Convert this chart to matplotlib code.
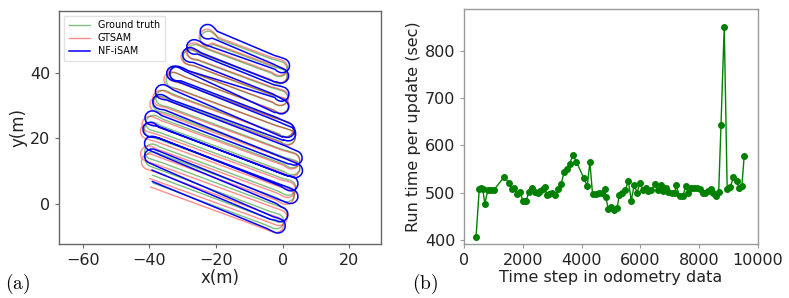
import numpy as np
import matplotlib
matplotlib.use("Agg")
import matplotlib.pyplot as plt
from matplotlib.path import Path
from matplotlib.patches import PathPatch
from matplotlib.lines import Line2D

plt.rcParams['mathtext.fontset'] = 'cm'

# ---- (a) trajectory: lane end points of the ground truth lawnmower path
lane_left_x = [-39.0, -39.2, -36.3, -36.5, -36.7, -36.9, -37.1, -36.9, -36.4, -35.8, -35.1, -34.3,
               -33.4, -32.4, -31.4, -30.3, -29.1, -27.9, -26.6, -25.3, -23.9, -22.4, -20.8, -19.1]
lane_left_y = [6.4, 8.8, 10.2, 12.7, 15.2, 17.4, 19.7, 21.8, 23.8, 25.8, 27.8, 29.6,
               31.5, 33.3, 35.1, 36.9, 38.7, 40.4, 42.1, 43.8, 45.5, 47.1, 48.7, 50.3]
lane_right_x = [-5.2, -4.2, -3.6, -2.4, -1.8, -1.4, -0.6, -0.1, 0.3, 0.6, 0.6, 0.2,
                -0.3, -0.9, -1.6, -2.2, -2.6, -2.9, -3.2, -3.4, -3.4, -3.4, -3.4, -3.4]
lane_right_y = [-6.4, -4.5, -2.4, -0.3, 1.9, 3.9, 5.8, 7.8, 9.9, 12.0, 14.2, 16.5,
                18.9, 21.3, 23.8, 26.2, 28.6, 30.9, 33.2, 35.5, 37.7, 39.9, 42.1, 44.3]
# order the lanes are driven in: up on the even lanes, back down on the odd ones
lane_order = [0, 2, 4, 6, 8, 10, 12, 14, 16, 18, 20, 22,
              23, 21, 19, 17, 15, 13, 11, 9, 7, 5, 3, 1]

# estimate errors per lane, read roughly
gtsam_dx = [-0.8, -0.9, -0.9, -1.0, -1.0, -1.0, -1.1, -1.0, -0.9, -0.8, -0.7, -0.7,
            -0.6, -0.6, -0.5, -0.5, -0.4, -0.4, -0.3, -0.3, -0.3, -0.2, -0.2, -0.2]
gtsam_dy = [-1.2, -1.0, -0.9, -0.8, -0.7, -0.6, -0.6, -0.5, -0.4, -0.3, -0.3, -0.2,
            -0.2, -0.1, 0.0, 0.0, 0.1, 0.2, 0.2, 0.3, 0.3, 0.4, 0.4, 0.5]
nf_left_dy = [0.5, 1.6, 0.8, 2.2, 1.0, 2.8, 0.6, 1.9, -0.4, 1.2, 0.9, 2.1,
              0.4, 1.5, 2.3, 0.7, 1.8, 0.2, 1.1, 2.0, 0.6, 1.4, 1.9, 2.4]
nf_right_dy = [-1.2, -0.2, -1.6, 0.4, -0.8, 1.5, -0.5, 0.9, -1.4, 0.2, -0.6, 1.1,
               0.5, -0.9, 1.3, 0.1, -0.7, 1.6, 0.3, 0.9, -0.4, 1.2, 0.6, 1.0]
nf_dx = [0.6, 0.4, 0.9, 0.5, 1.2, 0.8, 1.5, 1.0, 1.4, 1.1, 0.7, 0.9,
         0.5, 0.8, 0.3, 0.6, 0.2, 0.5, 0.4, 0.7, 0.9, 1.1, 0.6, 1.0]

# ---- (b) run time per update
steps = [400, 510, 560, 625, 700, 800, 900, 1000, 1360, 1520, 1610, 1690, 1780, 1900, 1990, 2050,
         2100, 2200, 2300, 2400, 2500, 2580, 2670, 2740, 2820, 2900, 3000, 3100, 3190, 3300,
         3400, 3490, 3590, 3700, 3820, 4080, 4190, 4280, 4370, 4480, 4590, 4680, 4780, 4820,
         4910, 5010, 5110, 5210, 5280, 5380, 5490, 5590, 5690, 5790, 5890, 5990, 6090, 6190,
         6270, 6380, 6490, 6590, 6690, 6780, 6870, 6960, 7080, 7180, 7210, 7350, 7450, 7550,
         7640, 7740, 7830, 7920, 8020, 8120, 8210, 8300, 8400, 8490, 8580, 8670, 8750, 8860,
         8960, 9070, 9170, 9280, 9360, 9460, 9540]
runtime = [406, 508, 509, 508, 476, 505, 505, 505, 533, 520, 508, 510, 497, 501, 483, 482,
           481, 501, 509, 502, 500, 503, 507, 512, 494, 496, 500, 495, 507, 518,
           543, 550, 560, 580, 565, 530, 513, 565, 497, 497, 498, 500, 507, 490,
           465, 470, 463, 467, 495, 500, 505, 525, 483, 515, 500, 520, 505, 510,
           503, 505, 518, 505, 515, 503, 510, 502, 500, 500, 515, 492, 493, 513,
           498, 510, 510, 510, 507, 500, 498, 503, 508, 500, 493, 501, 643, 852,
           508, 512, 532, 525, 510, 513, 577]

K = 0.5523  # bezier quarter circle


def lawnmower(lx, ly, rx, ry, order, R=2.3, neck=0.3):
    verts = []
    codes = []
    for k, i in enumerate(order):
        a = np.array([lx[i], ly[i]])
        b = np.array([rx[i], ry[i]])
        start, end = (a, b) if k % 2 == 0 else (b, a)
        if k == 0:
            verts.append(start)
            codes.append(Path.MOVETO)
        verts.append(end)
        codes.append(Path.LINETO)
        if k == len(order) - 1:
            continue
        j = order[k + 1]
        nxt = np.array([rx[j], ry[j]]) if k % 2 == 0 else np.array([lx[j], ly[j]])
        # keyhole turn: out of the lane, round a bulb, back into the next lane
        d = (end - start) / np.hypot(*(end - start))
        m = nxt - end
        m = m - np.dot(m, d) * d
        m = m / np.hypot(*m)
        ctr = (end + nxt) / 2 + (neck + R) * d
        A = ctr - R * m
        B = ctr + R * d
        C = ctr + R * m
        verts += [end + neck * d, A - K * R * d, A,
                  A + K * R * d, B - K * R * m, B,
                  B + K * R * m, C + K * R * d, C,
                  C - K * R * d, nxt + neck * d, nxt]
        codes += [Path.CURVE4] * 12
    return Path(verts, codes)


fig = plt.figure(figsize=(7.89, 2.98), dpi=100)
ax1 = fig.add_axes([0.0752, 0.182, 0.4073, 0.782])
ax2 = fig.add_axes([0.5885, 0.180, 0.3718, 0.791])

lx = np.array(lane_left_x)
ly = np.array(lane_left_y)
rx = np.array(lane_right_x)
ry = np.array(lane_right_y)

gt_path = lawnmower(lx, ly, rx, ry, lane_order)
gs_path = lawnmower(lx + gtsam_dx, ly + gtsam_dy, rx + np.array(gtsam_dx) * 0.3, ry + gtsam_dy,
                    lane_order, R=2.4)
nf_path = lawnmower(lx - np.array(nf_dx) * 0.5, ly + nf_left_dy, rx + nf_dx, ry + nf_right_dy,
                    lane_order, R=2.2, neck=0.2)

ax1.add_patch(PathPatch(gt_path, fill=False, edgecolor='green', lw=1.0, alpha=0.5))
ax1.add_patch(PathPatch(gs_path, fill=False, edgecolor='red', lw=1.0, alpha=0.45))
ax1.add_patch(PathPatch(nf_path, fill=False, edgecolor='blue', lw=1.1))

handles = [Line2D([], [], color='green', lw=1.0, alpha=0.5),
           Line2D([], [], color='red', lw=1.0, alpha=0.45),
           Line2D([], [], color='blue', lw=1.1)]
ax1.legend(handles, ['Ground truth', 'GTSAM', 'NF-iSAM'], loc='upper left', fontsize=6.9,
           frameon=True, handlelength=2.2, borderpad=0.5, labelspacing=0.3, fancybox=False,
           edgecolor='#dddddd')

ax1.set_xlim(-67, 29.4)
ax1.set_ylim(-12.2, 59)
ax1.set_xticks([-60, -40, -20, 0, 20])
ax1.set_yticks([0, 20, 40])
ax1.set_xlabel('x(m)', fontsize=12, labelpad=1, color='#222222')
ax1.set_ylabel('y(m)', fontsize=12, labelpad=2, color='#222222')

ax2.plot(steps, runtime, color='green', lw=1.0, marker='o', ms=4)
ax2.set_xlim(0, 10000)
ax2.set_ylim(390, 890)
ax2.set_xticks([0, 2000, 4000, 6000, 8000, 10000])
ax2.set_yticks([400, 500, 600, 700, 800])
ax2.set_xlabel('Time step in odometry data', fontsize=11.5, labelpad=1, color='#222222')
ax2.set_ylabel('Run time per update (sec)', fontsize=11.5, labelpad=3, color='#222222')

for ax, sc in ((ax1, '#666666'), (ax2, '#999999')):
    for s in ax.spines.values():
        s.set_color(sc)
        s.set_linewidth(1.0)
    ax.tick_params(labelsize=11.5, colors='#222222', length=3, width=0.8)
    ax.tick_params(color=sc)

fig.text(0.006, 0.03, r'$\mathrm{(a)}$', fontsize=14)
fig.text(0.522, 0.03, r'$\mathrm{(b)}$', fontsize=14)

fig.savefig('out.png', dpi=100)
